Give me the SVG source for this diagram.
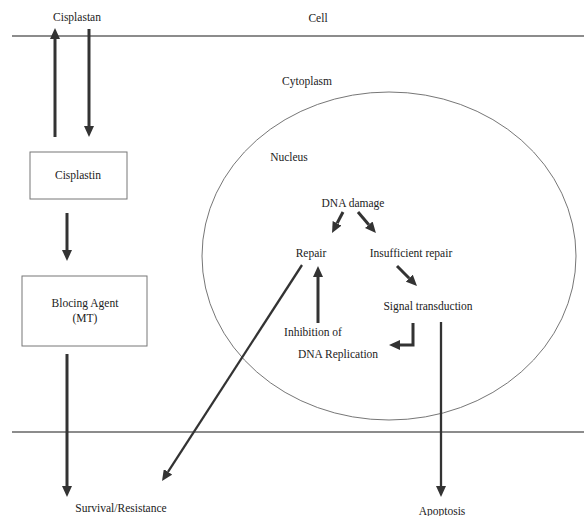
<svg xmlns="http://www.w3.org/2000/svg" width="584" height="516" viewBox="0 0 584 516">
<style>
text{font-family:"Liberation Serif","DejaVu Serif",serif;font-size:11.5px;fill:#222;text-anchor:middle}
.mem{stroke:#666;stroke-width:1.3;fill:none}
.box{stroke:#777;stroke-width:1;fill:#fff}
.arr{stroke:#333;stroke-width:3;fill:none;marker-end:url(#ah)}
.thin{stroke:#333;stroke-width:2.3;fill:none;marker-end:url(#ah)}
</style>
<defs>
<marker id="ah" markerUnits="userSpaceOnUse" viewBox="0 -5 11 10" refX="0" refY="0" markerWidth="11" markerHeight="10" orient="auto">
<path d="M0,-5 L11,0 L0,5 z" fill="#333"/>
</marker>
</defs>
<g id="membranes">
<line class="mem" x1="12" y1="36" x2="584" y2="36"/>
<line class="mem" x1="12" y1="432" x2="584" y2="432"/>
</g>
<g id="nucleus-shape">
<ellipse cx="389" cy="256" rx="187" ry="164" fill="none" stroke="#666" stroke-width="0.9"/>
</g>
<g id="labels">
<text x="77" y="21">Cisplastan</text>
<text x="318" y="22">Cell</text>
<text x="307" y="85">Cytoplasm</text>
<text x="289" y="161">Nucleus</text>
</g>
<g id="cisplastin">
<rect class="box" x="30" y="152" width="97" height="47"/>
<text x="78" y="179">Cisplastin</text>
</g>
<g id="blocking-agent">
<rect class="box" x="22" y="276" width="125" height="70"/>
<text x="85" y="307">Blocing Agent</text>
<text x="85" y="322">(MT)</text>
</g>
<g id="dna-damage"><text x="353" y="207">DNA damage</text></g>
<g id="repair"><text x="311" y="257">Repair</text></g>
<g id="insufficient-repair"><text x="411" y="257">Insufficient repair</text></g>
<g id="signal-transduction"><text x="428" y="310">Signal transduction</text></g>
<g id="inhibition"><text x="313" y="336">Inhibition of</text><text x="338" y="358">DNA Replication</text></g>
<g id="survival"><text x="121" y="512">Survival/Resistance</text></g>
<g id="apoptosis"><text x="442" y="515">Apoptosis</text></g>
<g id="connectors">
<line class="arr" x1="55" y1="137" x2="55" y2="39"/>
<line class="arr" x1="89" y1="29" x2="89" y2="126"/>
<line class="arr" x1="67" y1="213" x2="67" y2="250"/>
<line class="arr" x1="67" y1="354" x2="67" y2="486"/>
<line class="thin" x1="302" y1="265" x2="168" y2="471.8"/>
<line class="thin" x1="441" y1="322" x2="441" y2="486"/>
<line class="arr" x1="343" y1="212" x2="337.1" y2="223.3"/>
<line class="arr" x1="358" y1="212" x2="368.8" y2="224.7"/>
<line class="arr" x1="397" y1="266" x2="409.2" y2="278.2"/>
<line class="arr" x1="318" y1="323" x2="318" y2="277"/>
<polyline class="arr" points="413,323 413,345 400,345"/>
</g>
</svg>
